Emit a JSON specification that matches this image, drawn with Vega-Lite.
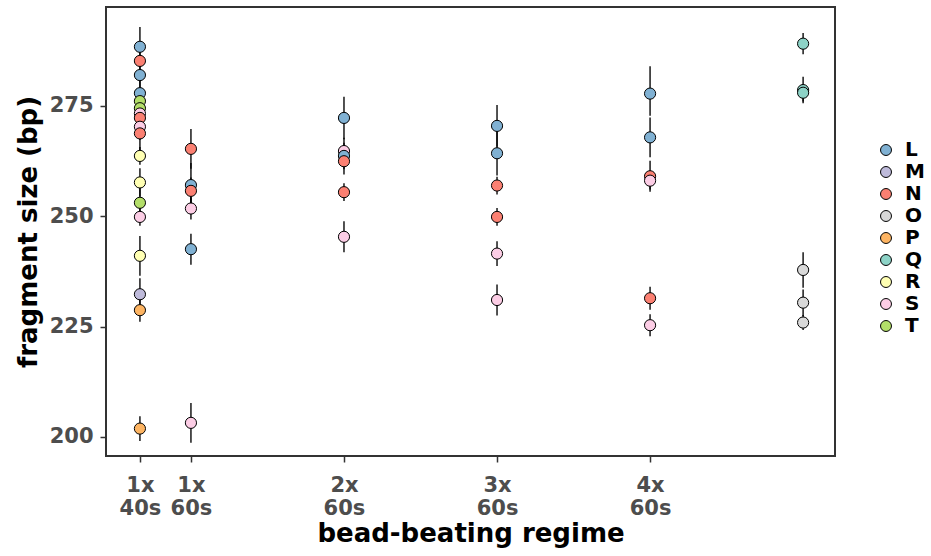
{
  "$schema": "https://vega.github.io/schema/vega-lite/v6.json",
  "width": 729,
  "height": 449,
  "autosize": {"type": "none"},
  "padding": {"left": 106, "top": 7, "right": 96, "bottom": 100},
  "background": "white",
  "config": {
    "view": {"stroke": "#333333", "strokeWidth": 2},
    "font": "DejaVu Sans",
    "axis": {
      "labelFont": "DejaVu Sans",
      "labelFontWeight": "bold",
      "labelFontSize": 21,
      "labelColor": "#4d4d4d",
      "titleFont": "DejaVu Sans",
      "titleFontWeight": "bold",
      "titleFontSize": 26,
      "titleColor": "black",
      "tickColor": "#333333",
      "tickWidth": 1.5,
      "tickSize": 6,
      "domain": false,
      "grid": false
    }
  },
  "data": {
    "values": [
      {"regime": 40, "sample": "L", "size": 288.3, "lo": 283.8, "hi": 292.8},
      {"regime": 40, "sample": "N", "size": 285.1, "lo": 281.1, "hi": 289.1},
      {"regime": 40, "sample": "L", "size": 281.9, "lo": 277.9, "hi": 285.9},
      {"regime": 40, "sample": "L", "size": 277.8, "lo": 273.8, "hi": 281.8},
      {"regime": 40, "sample": "T", "size": 276.0, "lo": 273.0, "hi": 279.0},
      {"regime": 40, "sample": "T", "size": 274.4, "lo": 271.4, "hi": 277.4},
      {"regime": 40, "sample": "S", "size": 273.2, "lo": 270.2, "hi": 276.2},
      {"regime": 40, "sample": "N", "size": 272.2, "lo": 269.2, "hi": 275.2},
      {"regime": 40, "sample": "S", "size": 270.2, "lo": 267.2, "hi": 273.2},
      {"regime": 40, "sample": "N", "size": 268.7, "lo": 264.2, "hi": 273.2},
      {"regime": 40, "sample": "R", "size": 263.6, "lo": 261.6, "hi": 265.6},
      {"regime": 40, "sample": "R", "size": 257.6, "lo": 254.4, "hi": 260.8},
      {"regime": 40, "sample": "T", "size": 253.0, "lo": 249.0, "hi": 257.0},
      {"regime": 40, "sample": "S", "size": 249.8, "lo": 247.8, "hi": 251.8},
      {"regime": 40, "sample": "R", "size": 241.0, "lo": 236.5, "hi": 245.5},
      {"regime": 40, "sample": "M", "size": 232.3, "lo": 228.7, "hi": 235.9},
      {"regime": 40, "sample": "P", "size": 228.7, "lo": 226.1, "hi": 231.3},
      {"regime": 40, "sample": "P", "size": 201.9, "lo": 199.1, "hi": 204.7},
      {"regime": 60, "sample": "N", "size": 265.2, "lo": 260.7, "hi": 269.7},
      {"regime": 60, "sample": "L", "size": 257.0, "lo": 252.0, "hi": 262.0},
      {"regime": 60, "sample": "N", "size": 255.7, "lo": 252.7, "hi": 258.7},
      {"regime": 60, "sample": "S", "size": 251.7, "lo": 249.2, "hi": 254.2},
      {"regime": 60, "sample": "L", "size": 242.5, "lo": 239.0, "hi": 246.0},
      {"regime": 60, "sample": "S", "size": 203.2, "lo": 198.7, "hi": 207.7},
      {"regime": 120, "sample": "L", "size": 272.2, "lo": 267.4, "hi": 277.0},
      {"regime": 120, "sample": "S", "size": 264.7, "lo": 261.7, "hi": 267.7},
      {"regime": 120, "sample": "L", "size": 263.6, "lo": 260.6, "hi": 266.6},
      {"regime": 120, "sample": "N", "size": 262.4, "lo": 259.4, "hi": 265.4},
      {"regime": 120, "sample": "N", "size": 255.4, "lo": 253.4, "hi": 257.4},
      {"regime": 120, "sample": "S", "size": 245.3, "lo": 241.8, "hi": 248.8},
      {"regime": 180, "sample": "L", "size": 270.4, "lo": 265.7, "hi": 275.1},
      {"regime": 180, "sample": "L", "size": 264.2, "lo": 259.2, "hi": 269.2},
      {"regime": 180, "sample": "N", "size": 256.9, "lo": 254.9, "hi": 258.9},
      {"regime": 180, "sample": "N", "size": 249.8, "lo": 247.8, "hi": 251.8},
      {"regime": 180, "sample": "S", "size": 241.5, "lo": 238.7, "hi": 244.3},
      {"regime": 180, "sample": "S", "size": 231.0, "lo": 227.5, "hi": 234.5},
      {"regime": 240, "sample": "L", "size": 277.7, "lo": 272.7, "hi": 283.9},
      {"regime": 240, "sample": "L", "size": 267.8, "lo": 263.3, "hi": 272.3},
      {"regime": 240, "sample": "N", "size": 259.0, "lo": 255.5, "hi": 262.5},
      {"regime": 240, "sample": "S", "size": 258.0, "lo": 256.0, "hi": 260.0},
      {"regime": 240, "sample": "N", "size": 231.4, "lo": 228.8, "hi": 234.0},
      {"regime": 240, "sample": "S", "size": 225.3, "lo": 222.8, "hi": 227.8},
      {"regime": 300, "sample": "Q", "size": 289.0, "lo": 286.6, "hi": 291.4},
      {"regime": 300, "sample": "Q", "size": 278.5, "lo": 275.5, "hi": 281.5},
      {"regime": 300, "sample": "Q", "size": 277.9, "lo": 275.9, "hi": 279.9},
      {"regime": 300, "sample": "O", "size": 237.8, "lo": 233.8, "hi": 241.8},
      {"regime": 300, "sample": "O", "size": 230.4, "lo": 227.4, "hi": 233.4},
      {"regime": 300, "sample": "O", "size": 225.9, "lo": 224.2, "hi": 227.6}
    ]
  },
  "layer": [
    {
      "mark": {"type": "rule", "color": "black", "strokeWidth": 1.6, "opacity": 0.85},
      "encoding": {
        "x": {"field": "regime", "type": "quantitative"},
        "y": {"field": "lo", "type": "quantitative"},
        "y2": {"field": "hi"}
      }
    },
    {
      "mark": {"type": "point", "shape": "circle", "filled": true, "size": 125, "stroke": "black", "strokeWidth": 1, "opacity": 1},
      "encoding": {
        "x": {
          "field": "regime",
          "type": "quantitative",
          "scale": {"domain": [26.7, 312.5], "nice": false, "zero": false},
          "axis": {
            "title": "bead-beating regime",
            "values": [40, 60, 120, 180, 240],
            "labelExpr": "datum.value == 40 ? ['1x', '40s'] : datum.value == 60 ? ['1x', '60s'] : datum.value == 120 ? ['2x', '60s'] : datum.value == 180 ? ['3x', '60s'] : ['4x', '60s']",
            "labelLineHeight": 23,
            "labelPadding": 12,
            "titlePadding": 2
          }
        },
        "y": {
          "field": "size",
          "type": "quantitative",
          "scale": {"domain": [195.7, 297.3], "nice": false, "zero": false},
          "axis": {
            "title": "fragment size (bp)",
            "values": [200, 225, 250, 275],
            "labelPadding": 7,
            "titlePadding": 8
          }
        },
        "color": {
          "field": "sample",
          "type": "nominal",
          "scale": {
            "domain": ["L", "M", "N", "O", "P", "Q", "R", "S", "T"],
            "range": ["#80b1d3", "#bebada", "#fb8072", "#d9d9d9", "#fdb462", "#8dd3c7", "#ffffb3", "#fccde5", "#b3de69"]
          },
          "legend": {
            "title": null,
            "orient": "none",
            "legendX": 770,
            "legendY": 133,
            "symbolType": "circle",
            "symbolSize": 120,
            "symbolStrokeColor": "black",
            "symbolStrokeWidth": 1,
            "symbolOpacity": 1,
            "labelFont": "DejaVu Sans",
            "labelFontWeight": "bold",
            "labelFontSize": 20,
            "labelColor": "black",
            "labelOffset": 9,
            "rowPadding": 2,
            "padding": 0
          }
        }
      }
    }
  ]
}
